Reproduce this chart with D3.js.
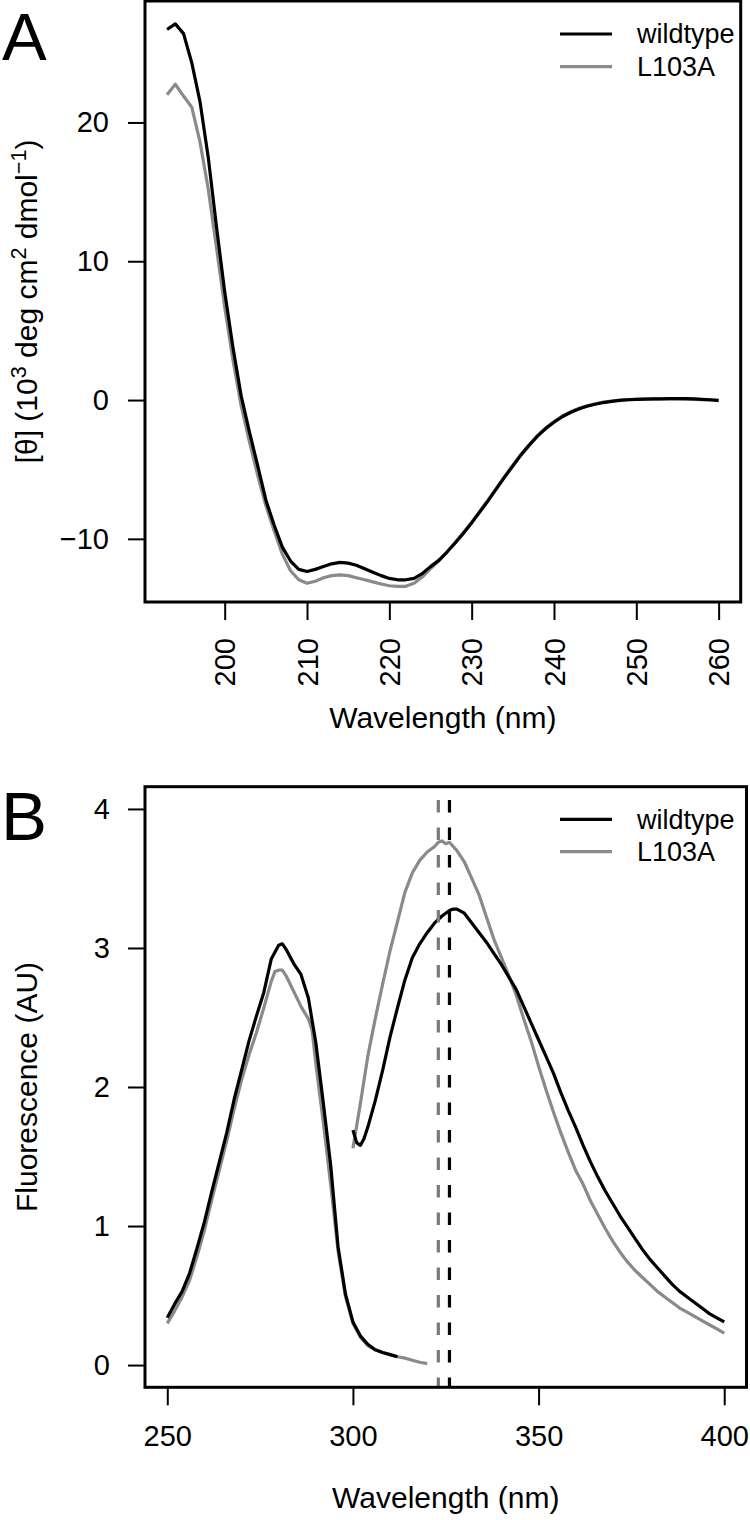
<!DOCTYPE html>
<html><head><meta charset="utf-8">
<script src="https://cdn.jsdelivr.net/npm/d3@7"></script>
<style>
body{margin:0;background:#fff}
svg{display:block}
text{font-family:"Liberation Sans",Arial,Helvetica,sans-serif;fill:#000}
</style>
</head><body>
<svg id="chart" width="750" height="1520"></svg>
<script>
// ---------- Panel A: CD spectra ----------
const cdNm = [193,194,195,196,197,198,199,200,201,202,203,204,205,206,207,208,209,210,211,212,213,214,215,216,217,218,219,220,221,222,223,224,225,226,227,228,229,230,231,232,233,234,235,236,237,238,239,240,241,242,243,244,245,246,247,248,249,250,251,252,253,254,255,256,257,258,259,260];
const cdWildtype = [26.7,27.1,26.4,24.3,21.5,17.5,12.5,7.8,3.8,0.3,
  -2.3,-4.7,-7.2,-9.0,-10.6,-11.6,-12.2,-12.35,-12.2,-12.0,
  -11.8,-11.7,-11.75,-11.9,-12.15,-12.4,-12.65,-12.85,-12.95,-12.95,
  -12.85,-12.5,-12.0,-11.55,-10.95,-10.3,-9.6,-8.85,-8.05,-7.25,
  -6.4,-5.55,-4.75,-3.95,-3.25,-2.6,-2.05,-1.6,-1.2,-0.9,
  -0.65,-0.45,-0.3,-0.18,-0.09,-0.03,0.02,0.05,0.07,0.08,
  0.09,0.1,0.1,0.1,0.08,0.05,0.02,-0.03];
const cdL103A = [22.0,22.75,21.9,21.1,18.6,15.2,11.0,6.7,2.9,-0.4,
  -3.0,-5.4,-7.6,-9.4,-11.1,-12.3,-12.95,-13.2,-13.05,-12.8,
  -12.65,-12.6,-12.65,-12.8,-12.95,-13.1,-13.25,-13.38,-13.43,-13.42,
  -13.2,-12.75,-12.15,-11.6,-10.95,-10.25,-9.55,-8.8,-8.0,-7.2,
  -6.35,-5.5,-4.7,-3.9,-3.2,-2.55,-2.0,-1.55,-1.15,-0.85,
  -0.6,-0.42,-0.27,-0.15,-0.07,-0.01,0.03,0.05,0.06,0.07,
  0.08,0.08,0.08,0.07,0.05,0.03,0.0,-0.05];
const cdXTicks = [200,210,220,230,240,250,260];
const cdYTicks = [-10,0,10,20];

// ---------- Panel B: fluorescence ----------
const exNmWildtype = [250,252,254,256,258,260,262,264,266,268,270,272,274,276,278,280,281,282,284,286,288,289,290,292,294,296,298,300,302,304,306,308,310,312];
const exWildtype = [0.34,0.44,0.53,0.66,0.84,1.03,1.25,1.46,1.67,1.91,2.12,2.33,2.51,2.68,2.92,3.02,3.03,2.99,2.89,2.81,2.64,2.48,2.32,1.89,1.44,0.85,0.51,0.31,0.21,0.15,0.11,0.09,0.075,0.06];
const exNmL103A = [250,252,254,256,258,260,262,264,266,268,270,272,274,276,278,279,280,281,282,284,286,288,289,290,292,294,296,298,300,302,304,306,308,310,312,314,316,318,320];
const exL103A = [0.30,0.39,0.49,0.61,0.78,0.97,1.19,1.40,1.61,1.84,2.05,2.23,2.39,2.57,2.76,2.83,2.84,2.84,2.80,2.69,2.58,2.49,2.41,2.17,1.75,1.30,0.82,0.49,0.30,0.20,0.14,0.11,0.09,0.075,0.06,0.05,0.035,0.02,0.01];
const emNmWildtype = [300,301,302,303,304,306,308,310,312,314,316,318,320,322,324,326,327,328,330,332,334,336,338,340,342,344,346,348,350,352,354,356,358,360,362,364,366,368,370,372,374,376,378,380,382,384,386,388,390,392,394,396,398,400];
const emWildtype = [1.69,1.60,1.58,1.63,1.71,1.90,2.12,2.36,2.57,2.77,2.93,3.03,3.11,3.18,3.23,3.27,3.28,3.28,
  3.25,3.18,3.11,3.04,2.96,2.88,2.79,2.70,2.58,2.46,2.34,2.22,2.10,1.96,1.83,1.71,1.58,1.46,1.35,1.25,1.16,1.07,0.99,0.91,0.83,0.76,0.70,0.64,0.58,0.53,0.49,0.45,0.41,0.37,0.34,0.31];
const emNmL103A = [300,302,304,306,308,310,312,314,316,318,320,322,323,324,325,326,328,330,332,334,336,338,340,342,344,346,348,350,352,354,356,358,360,362,364,366,368,370,372,374,376,378,380,382,384,386,388,390,392,394,396,398,400];
const emL103A = [1.56,1.88,2.22,2.49,2.74,2.98,3.19,3.40,3.54,3.63,3.69,3.73,3.76,3.77,3.75,3.76,
  3.70,3.62,3.50,3.38,3.22,3.06,2.93,2.80,2.66,2.49,2.33,2.15,1.98,1.82,1.67,1.53,1.40,1.30,1.18,1.08,0.98,0.89,0.81,0.74,0.68,0.63,0.58,0.53,0.49,0.45,0.41,0.38,0.35,0.32,0.29,0.26,0.23];
const emMaxWildtype = 326;
const emMaxL103A = 323;
const flXTicks = [250,300,350,400];
const flYTicks = [0,1,2,3,4];

const seriesNames = ["wildtype","L103A"];

// ---------- drawing ----------
const svg = d3.select("#chart");
const BLACK = "#000", GRAY = "#8a8a8a", GRAYDASH = "#7a7a7a";
const FS_TICK = 29, FS_TITLE = 30, FS_LEG = 27;
const minus = d => d < 0 ? "\u2212" + Math.abs(d) : String(d);

function styleAxis(g){
  g.select(".domain").remove();
  g.selectAll(".tick line").attr("stroke", BLACK).attr("stroke-width", 2);
  g.selectAll(".tick text").attr("font-size", FS_TICK).attr("fill", BLACK)
    .style("font-family", '"Liberation Sans",Arial,Helvetica,sans-serif');
}

function legend(g, x0, y0, dy){
  seriesNames.forEach((n,i) => {
    const y = y0 + i*dy;
    g.append("line").attr("x1", x0).attr("x2", x0+52).attr("y1", y).attr("y2", y)
      .attr("stroke", i===0 ? BLACK : GRAY).attr("stroke-width", 3.2);
    g.append("text").attr("x", x0+77).attr("y", y).attr("dy", "0.35em")
      .attr("font-size", FS_LEG).text(n);
  });
}

// Panel A
{
  const L = 145, R = 740.7, T = 1, B = 602;
  const x = d3.scaleLinear().domain([190.32, 262.68]).range([L, R]);
  const y = d3.scaleLinear().domain([-14.55, 28.75]).range([B, T]);
  const g = svg.append("g");

  const line = nm => d3.line().x((d,i) => x(nm[i])).y(d => y(d));
  g.append("path").datum(cdL103A).attr("d", line(cdNm)).attr("fill","none")
    .attr("stroke", GRAY).attr("stroke-width", 3.2).attr("stroke-linejoin","round");
  g.append("path").datum(cdWildtype).attr("d", line(cdNm)).attr("fill","none")
    .attr("stroke", BLACK).attr("stroke-width", 3.2).attr("stroke-linejoin","round");

  g.append("g").attr("transform", `translate(${L},0)`)
    .call(d3.axisLeft(y).tickValues(cdYTicks).tickSize(17).tickPadding(19).tickFormat(minus))
    .call(styleAxis);
  const ax = g.append("g").attr("transform", `translate(0,${B})`)
    .call(d3.axisBottom(x).tickValues(cdXTicks).tickSize(18).tickFormat(d => d))
    .call(styleAxis);
  ax.selectAll(".tick text").attr("transform","rotate(-90)")
    .attr("x", -36).attr("y", 0).attr("dy","0.35em").attr("text-anchor","end");

  g.append("rect").attr("x", L).attr("y", T).attr("width", R-L).attr("height", B-T)
    .attr("fill","none").attr("stroke", BLACK).attr("stroke-width", 3);

  g.append("text").attr("x", (L+R)/2).attr("y", 728).attr("text-anchor","middle")
    .attr("font-size", FS_TITLE).text("Wavelength (nm)");

  const yl = g.append("text").attr("transform", `translate(37,${(T+B)/2}) rotate(-90)`)
    .attr("text-anchor","middle").attr("font-size", FS_TITLE);
  yl.append("tspan").text("[\u03B8] (10");
  yl.append("tspan").attr("font-size", FS_TITLE*0.72).attr("dy", -11).text("3");
  yl.append("tspan").attr("dy", 11).text(" deg cm");
  yl.append("tspan").attr("font-size", FS_TITLE*0.72).attr("dy", -11).text("2");
  yl.append("tspan").attr("dy", 11).text(" dmol");
  yl.append("tspan").attr("font-size", FS_TITLE*0.72).attr("dy", -11).text("\u22121");
  yl.append("tspan").attr("dy", 11).text(")");

  legend(g, 560, 34, 32.7);

  g.append("text").attr("x", 2).attr("y", 60).attr("font-size", 67).text("A");
}

// Panel B
{
  const L = 145, R = 746.5, T = 786.7, B = 1387.3;
  const x = d3.scaleLinear().domain([244, 406]).range([L, R]);
  const y = d3.scaleLinear().domain([-0.16, 4.16]).range([B, T]);
  const g = svg.append("g");

  const line = nm => d3.line().x((d,i) => x(nm[i])).y(d => y(d));
  const draw = (vals, nm, col) => g.append("path").datum(vals).attr("d", line(nm))
    .attr("fill","none").attr("stroke", col).attr("stroke-width", 3.2).attr("stroke-linejoin","round");
  draw(exL103A, exNmL103A, GRAY);
  draw(exWildtype, exNmWildtype, BLACK);
  draw(emL103A, emNmL103A, GRAY);
  draw(emWildtype, emNmWildtype, BLACK);

  [[emMaxL103A, GRAYDASH],[emMaxWildtype, BLACK]].forEach(([v,c]) => {
    g.append("line").attr("x1", x(v)).attr("x2", x(v)).attr("y1", T).attr("y2", B)
      .attr("stroke", c).attr("stroke-width", 3.2)
      .attr("stroke-dasharray","12.5,15").attr("stroke-dashoffset", 14.2);
  });

  g.append("g").attr("transform", `translate(${L},0)`)
    .call(d3.axisLeft(y).tickValues(flYTicks).tickSize(17).tickPadding(18).tickFormat(d => d))
    .call(styleAxis);
  g.append("g").attr("transform", `translate(0,${B})`)
    .call(d3.axisBottom(x).tickValues(flXTicks).tickSize(18).tickPadding(20).tickFormat(d => d))
    .call(styleAxis);

  g.append("rect").attr("x", L).attr("y", T).attr("width", R-L).attr("height", B-T)
    .attr("fill","none").attr("stroke", BLACK).attr("stroke-width", 3);

  g.append("text").attr("x", (L+R)/2).attr("y", 1508).attr("text-anchor","middle")
    .attr("font-size", FS_TITLE).text("Wavelength (nm)");
  g.append("text").attr("transform", `translate(37,${(T+B)/2}) rotate(-90)`)
    .attr("text-anchor","middle").attr("font-size", FS_TITLE).text("Fluorescence (AU)");

  legend(g, 560, 819.3, 32.4);

  g.append("text").attr("x", 1).attr("y", 840).attr("font-size", 69).text("B");
}
</script>
</body></html>
